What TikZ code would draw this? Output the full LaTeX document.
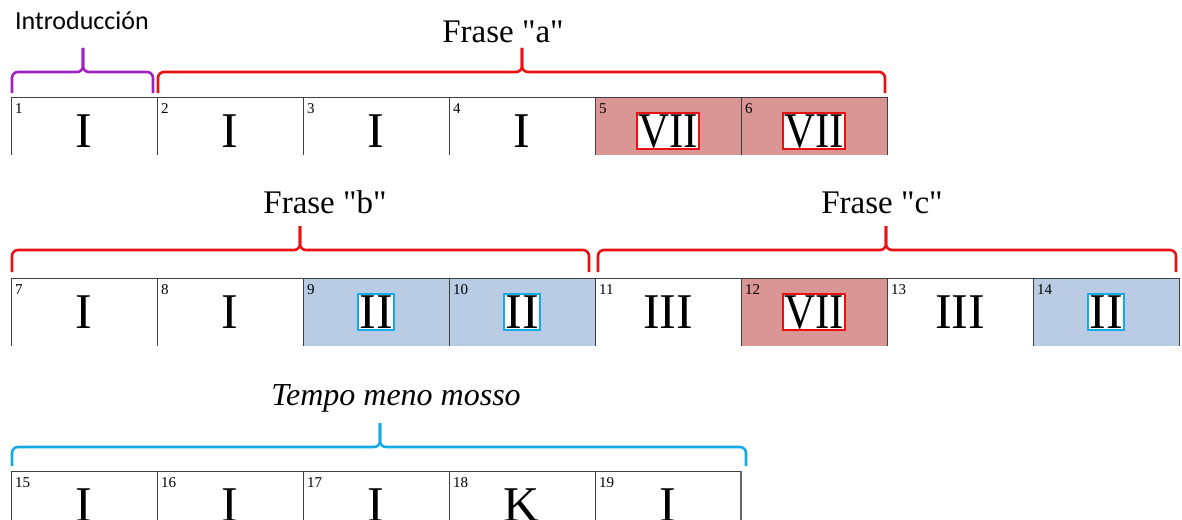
\documentclass[tikz,border=0pt]{standalone}
\usepackage{fontspec}
\setmainfont{Liberation Serif}
\newfontfamily\introfont{Carlito}
\usetikzlibrary{positioning}
\definecolor{intropurple}{RGB}{160,32,192}
\definecolor{phrasered}{RGB}{232,16,16}
\definecolor{tempocyan}{RGB}{20,170,230}
\definecolor{redfill}{RGB}{217,150,148}
\definecolor{bluefill}{RGB}{185,204,228}
\begin{document}
\begin{tikzpicture}[
        x=1pt, y=-1pt,
        cell/.style={minimum width=146pt, minimum height=#1, inner sep=0pt, outer sep=0pt, anchor=north west},
        barnum/.style={font=\fontsize{15}{15}\selectfont, inner sep=0pt, anchor=north west},
        chord/.style={font=\fontsize{50}{50}\selectfont, anchor=base, fill=white, line width=2pt,
                      inner sep=1.5pt, text height=33pt, text depth=0pt},
        brace/.style={line width=2.6pt, rounded corners=6pt},
        label/.style={anchor=base, font=\fontsize{33}{33}\selectfont},
    ]
    \useasboundingbox (0,0) rectangle (1182,519);

    % compases
    \foreach \n/\x/\y/\h/\f/\b/\t in {
        1/11/97/58/white/none/I, 2/157/97/58/white/none/I, 3/303/97/58/white/none/I,
        4/449/97/58/white/none/I, 5/595/97/58/redfill/phrasered/{\scalebox{0.86}[1]{VII}},
        6/741/97/58/redfill/phrasered/{\scalebox{0.86}[1]{VII}},
        7/11/278/68/white/none/I, 8/157/278/68/white/none/I,
        9/303/278/68/bluefill/tempocyan/II, 10/449/278/68/bluefill/tempocyan/II,
        11/595/278/68/white/none/III, 12/741/278/68/redfill/phrasered/{\scalebox{0.86}[1]{VII}},
        13/887/278/68/white/none/III, 14/1033/278/68/bluefill/tempocyan/II,
        15/11/471/60/white/none/I, 16/157/471/60/white/none/I, 17/303/471/60/white/none/I,
        18/449/471/60/white/none/K, 19/595/471/60/white/none/I}
    {
        \node[cell=\h pt, fill=\f] (c\n) at (\x,\y) {};
        \draw[black!75] (c\n.south west) |- (c\n.north east) -- (c\n.south east);
        \node[barnum] (n\n) at ({\x+4},{\y+6}) {\n};
        \node[chord, draw=\b] (ch\n) at ({\x+73},{\y+50}) {\t};
    }
    \draw[black!60, line width=2pt] (c19.north east) -- (c19.south east);

    % llaves
    \foreach \nm/\xl/\xr/\xm/\yl/\yb/\col in {
        intro/12/153/83/72/93/intropurple, fa/158/885/522/72/93/phrasered,
        fb/12/589/300/250/272/phrasered, fc/598/1176/886/250/272/phrasered,
        tempo/12/746/380/447/466/tempocyan}
    {
        \coordinate (\nm L) at (\xl,\yb);
        \coordinate (\nm R) at (\xr,\yb);
        \coordinate (\nm M) at (\xm,\yl);
        \draw[brace, \col] (\nm L) |- (\nm M) -- ++(0,-24);
        \draw[brace, \col] (\nm R) |- (\nm M) -- ++(0,-24);
    }

    \node[anchor=base, font=\introfont\fontsize{26}{26}\selectfont] (introlabel) at (82,30) {Introducción};
    \node[label] (falabel) at (503,42) {Frase \textquotedbl a\textquotedbl};
    \node[label] (fblabel) at (325,213) {Frase \textquotedbl b\textquotedbl};
    \node[label] (fclabel) at (882,213) {Frase \textquotedbl c\textquotedbl};
    \node[label, font=\fontsize{32}{32}\selectfont\itshape] (tempolabel) at (396,405) {Tempo meno mosso};

\end{tikzpicture}
\end{document}
